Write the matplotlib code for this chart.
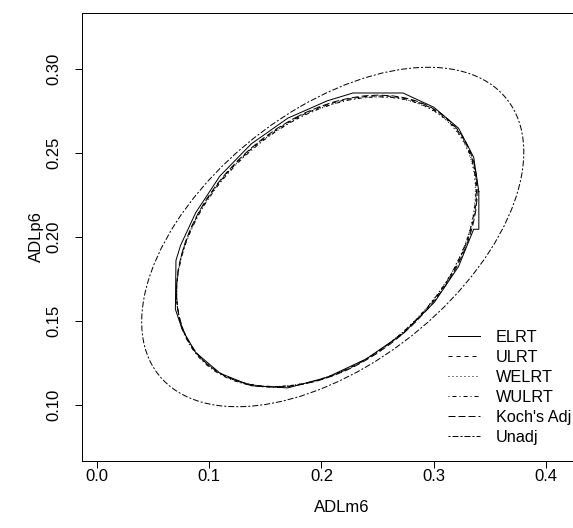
import numpy as np
import matplotlib
matplotlib.use("Agg")
import matplotlib.pyplot as plt
from matplotlib.patches import Ellipse
from matplotlib.lines import Line2D

plt.rcParams['font.family'] = ['Liberation Sans', 'DejaVu Sans']
plt.rcParams['lines.scale_dashes'] = False

# ELRT region boundary (ADLm6, ADLp6)
elrt_x = [0.340, 0.3354, 0.322, 0.300, 0.2725, 0.228, 0.205, 0.170, 0.1375,
          0.1095, 0.088, 0.0746, 0.0705, 0.070, 0.076, 0.088, 0.110, 0.1375,
          0.170, 0.205, 0.240, 0.2725, 0.3005, 0.322, 0.3354, 0.340, 0.340]
elrt_y = [0.227, 0.2475, 0.2647, 0.2772, 0.2857, 0.2857, 0.281, 0.2707, 0.2554,
          0.2362, 0.2144, 0.1950, 0.186, 0.157, 0.145, 0.1313, 0.1188, 0.1115,
          0.1102, 0.1165, 0.1275, 0.1425, 0.1612, 0.1825, 0.2046, 0.2046, 0.227]

# elliptical regions: centre, half-range in x, half-range in y, correlation
methods = ["ULRT", "WELRT", "WULRT", "Koch's Adj", "Unadj"]
centre_x = [0.2045, 0.2040, 0.2042, 0.2048, 0.210]
centre_y = [0.1975, 0.1972, 0.1970, 0.1976, 0.200]
half_x = [0.1335, 0.1330, 0.1332, 0.1338, 0.170]
half_y = [0.0865, 0.0862, 0.0864, 0.0868, 0.101]
rho = [0.35, 0.35, 0.355, 0.345, 0.50]

px = 0.72  # one pixel in points
styles = {
    "ELRT": '-',
    "ULRT": (0, (4 * px, 4 * px)),
    "WELRT": (0, (1 * px, 3 * px)),
    "WULRT": (0, (1 * px, 3 * px, 4 * px, 3 * px)),
    "Koch's Adj": (0, (7 * px, 3 * px)),
    "Unadj": (0, (2 * px, 2 * px, 6 * px, 2 * px)),
}

fig = plt.figure(figsize=(5.73, 5.28), dpi=100)
ax = fig.add_axes([82 / 573, 1 - 461 / 528, (601 - 82) / 573, (461 - 13) / 528])

ax.plot(elrt_x, elrt_y, color='black', lw=px, ls='-')

for m, cx, cy, hx, hy, r in zip(methods, centre_x, centre_y, half_x, half_y, rho):
    a = np.array([[hx, 0.0], [hy * r, hy * np.sqrt(1 - r ** 2)]])
    vals, vecs = np.linalg.eigh(a @ a.T)
    big = vecs[:, 1]
    ang = np.degrees(np.arctan2(big[1], big[0]))
    ax.add_patch(Ellipse((cx, cy), 2 * np.sqrt(vals[1]), 2 * np.sqrt(vals[0]),
                         angle=ang, fill=False, ec='black', lw=px,
                         ls=styles[m]))

ax.set_xlim(-0.0131, 0.4487)
ax.set_ylim(0.0667, 0.3333)
ax.set_xticks([0.0, 0.1, 0.2, 0.3, 0.4])
ax.set_xticklabels(['0.0', '0.1', '0.2', '0.3', '0.4'])
ax.set_yticks([0.10, 0.15, 0.20, 0.25, 0.30])
ax.set_yticklabels(['0.10', '0.15', '0.20', '0.25', '0.30'], rotation=90,
                   va='center')
ax.tick_params(length=5, width=px, labelsize=12)
ax.tick_params(axis='x', pad=1)
ax.tick_params(axis='y', pad=10)
ax.spines['right'].set_visible(False)
for s in ['left', 'bottom', 'top']:
    ax.spines[s].set_linewidth(px)
ax.set_xlabel('ADLm6', fontsize=12, labelpad=11)
ax.set_ylabel('ADLp6', fontsize=12, labelpad=1.5)

handles = [Line2D([], [], color='black', lw=px, ls=styles[k]) for k in styles]
fig.legend(handles, list(styles), loc='upper left', frameon=False,
           bbox_to_anchor=(448 / 573, 1 - 329.5 / 528), borderpad=0,
           borderaxespad=0, handlelength=1.97, handletextpad=0.98,
           labelspacing=0.31, fontsize=11.7)

fig.savefig('out.png', dpi=100)
